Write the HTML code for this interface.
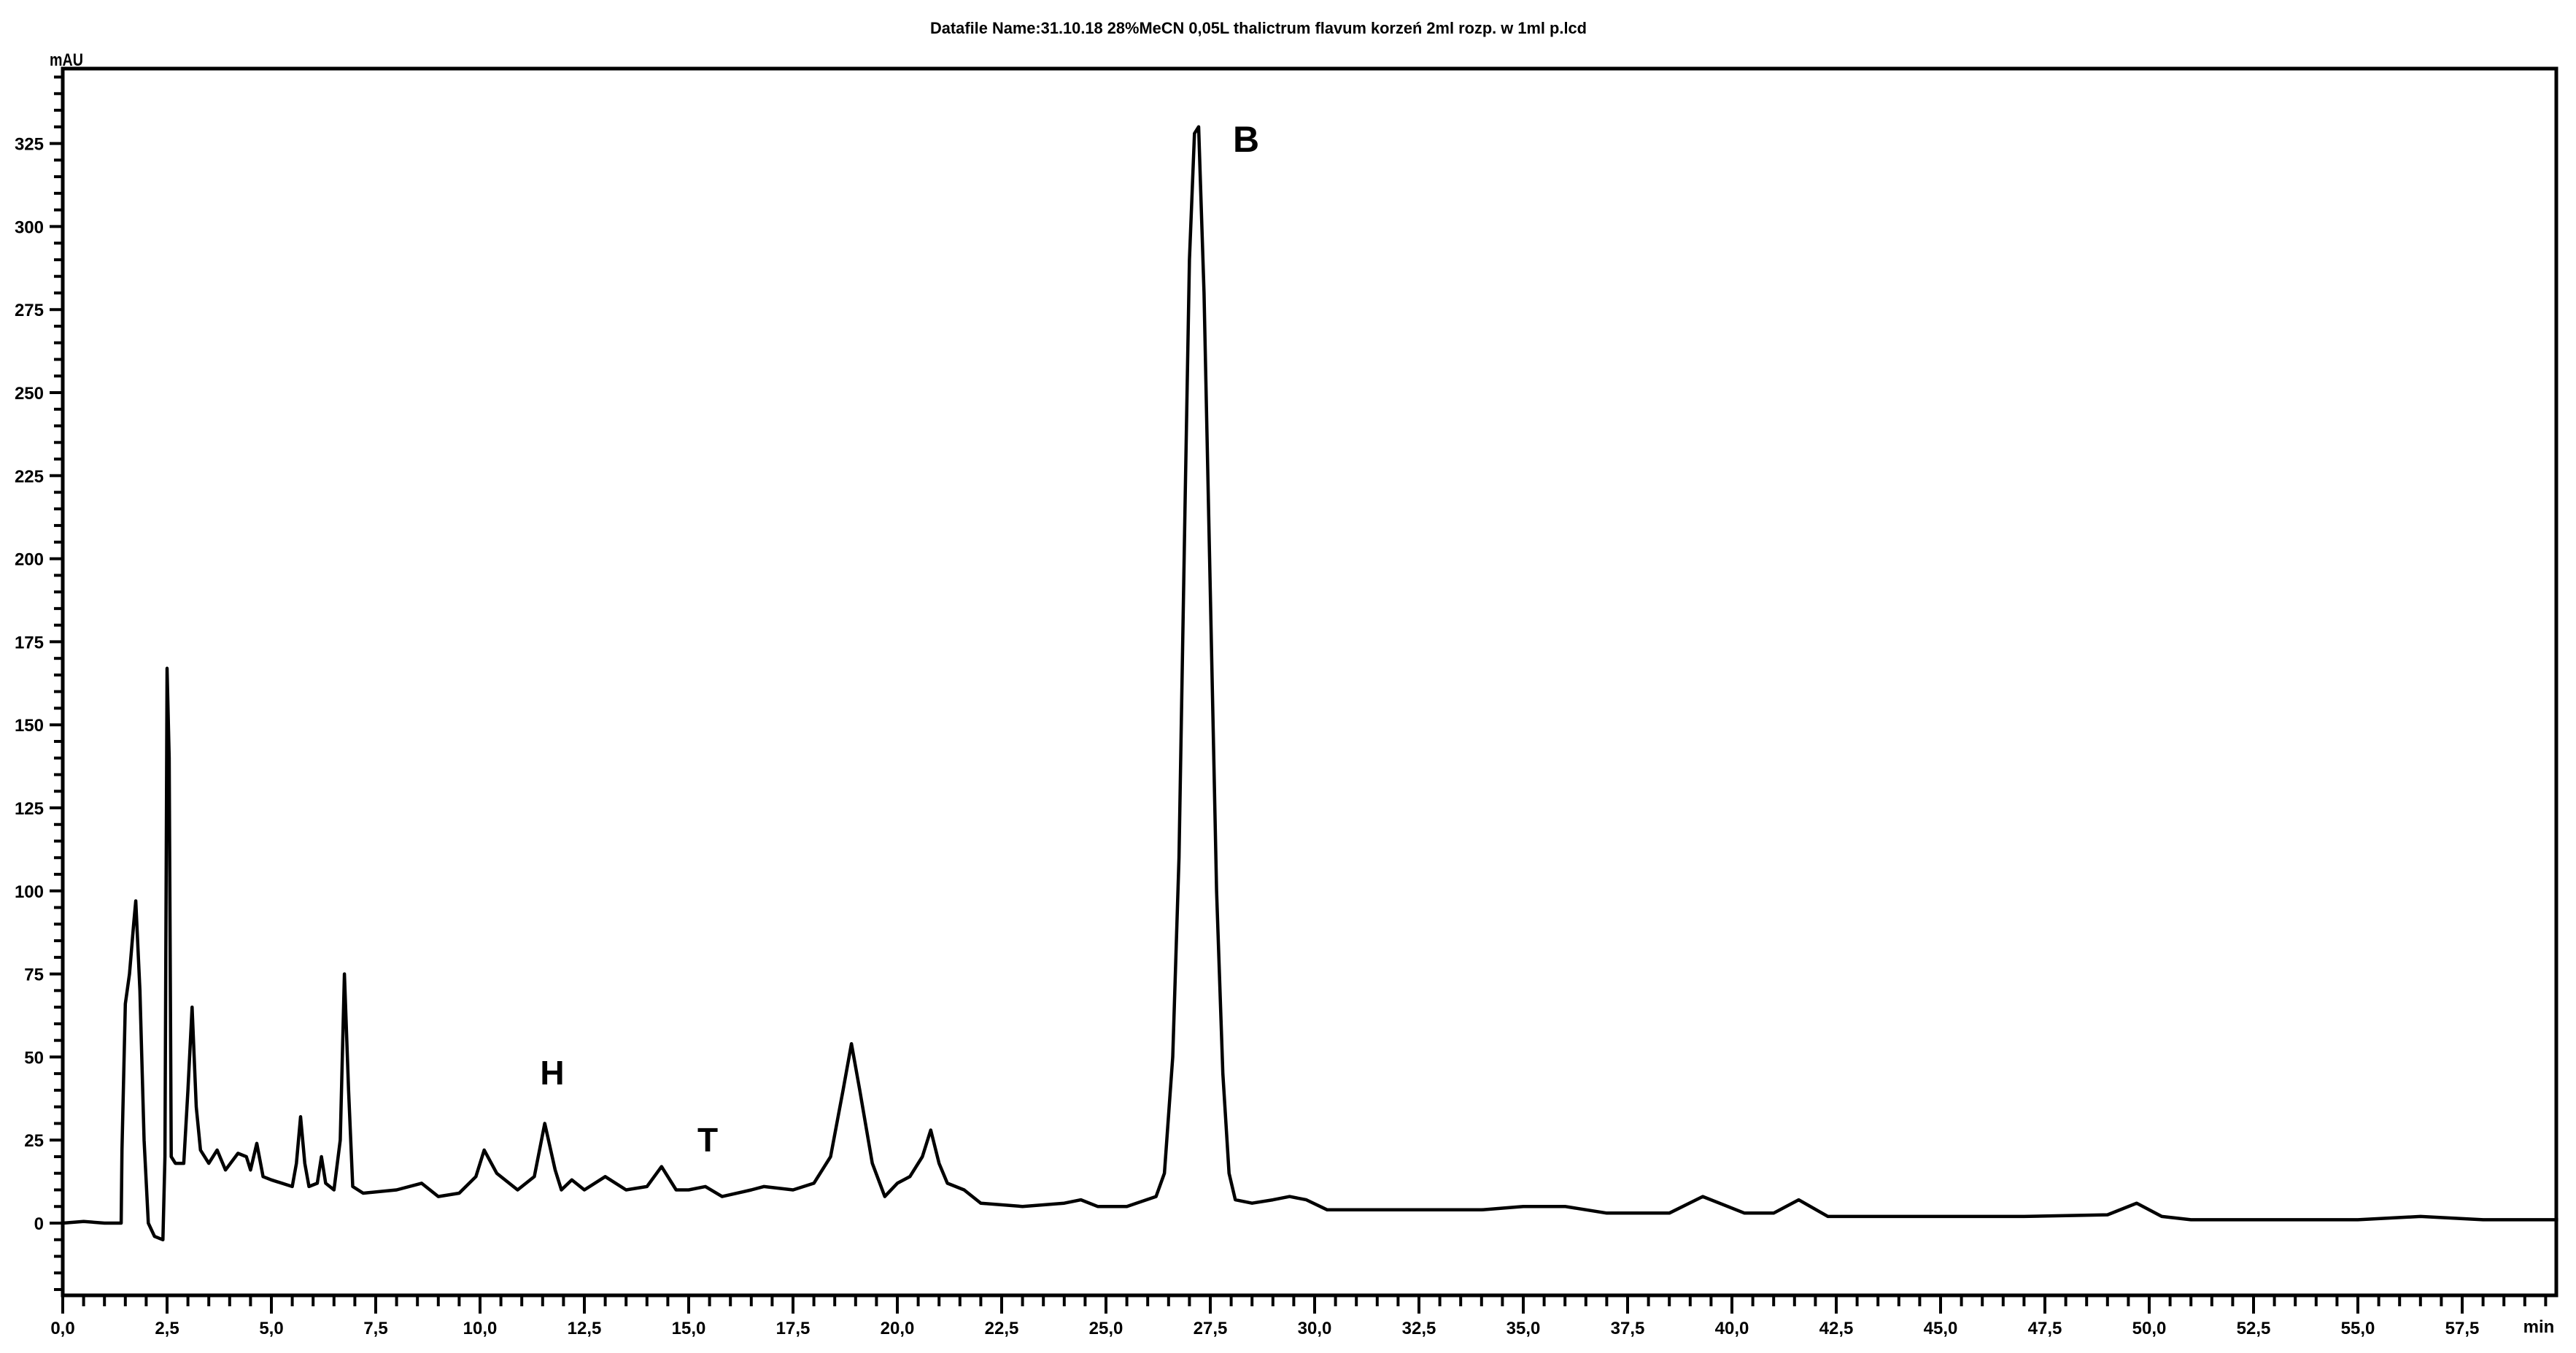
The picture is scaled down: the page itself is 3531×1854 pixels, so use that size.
<!DOCTYPE html>
<html><head><meta charset="utf-8">
<style>
html,body{margin:0;padding:0;background:#fff;}
svg{display:block;}
text{font-family:"Liberation Sans",sans-serif;font-weight:bold;fill:#000;}
</style></head>
<body>
<svg id="chart" width="3531" height="1854" viewBox="0 0 3531 1854" xmlns="http://www.w3.org/2000/svg">
<text x="1725" y="46" font-size="22" text-anchor="middle" textLength="900" lengthAdjust="spacingAndGlyphs">Datafile Name:31.10.18 28%MeCN 0,05L thalictrum flavum korzeń 2ml rozp. w 1ml p.lcd</text>
<text x="68" y="90" font-size="24" textLength="46" lengthAdjust="spacingAndGlyphs">mAU</text>
<text x="3480" y="1826" font-size="24" text-anchor="middle">min</text>
<g id="ticks"></g>
<rect x="86" y="94" width="3418" height="1681" fill="none" stroke="#000" stroke-width="5"/>
<polyline id="trace" fill="none" stroke="#000" stroke-width="4.5" stroke-linejoin="round"/>
<text x="757" y="1486" font-size="46" text-anchor="middle">H</text>
<text x="970" y="1578" font-size="46" text-anchor="middle">T</text>
<text x="1708" y="208" font-size="50" text-anchor="middle">B</text>
</svg>
<script>
const times = [0,0.5,1.0,1.4,1.42,1.5,1.6,1.7,1.75,1.85,1.95,2.05,2.2,2.4,2.45,2.5,2.55,2.6,2.7,2.9,3.0,3.1,3.2,3.3,3.5,3.7,3.9,4.2,4.4,4.5,4.65,4.8,5.0,5.5,5.6,5.7,5.8,5.9,6.1,6.2,6.3,6.5,6.65,6.75,6.85,6.95,7.2,8.0,8.6,9.0,9.5,9.9,10.1,10.4,10.9,11.3,11.55,11.8,11.95,12.2,12.5,13.0,13.5,14.0,14.35,14.7,15.0,15.4,15.8,16.5,16.8,17.5,18.0,18.4,18.7,18.9,19.1,19.4,19.7,20.0,20.3,20.6,20.8,21.0,21.2,21.6,22.0,23.0,24.0,24.4,24.8,25.5,26.2,26.4,26.6,26.75,26.9,27.0,27.12,27.22,27.35,27.5,27.65,27.8,27.95,28.1,28.5,29.0,29.4,29.8,30.3,32,34,35,36,37,38.5,39.3,40.3,41.0,41.6,42.3,45,47,49,49.7,50.3,51,55,56.5,58,59.8];
const values = [0,0.5,0,0,22,66,75,90,97,70,25,0,-4,-5,20,167,140,20,18,18,40,65,35,22,18,22,16,21,20,16,24,14,13,11,18,32,18,11,12,20,12,10,25,75,40,11,9,10,12,8,9,14,22,15,10,14,30,16,10,13,10,14,10,11,17,10,10,11,8,10,11,10,12,20,40,54,40,18,8,12,14,20,28,18,12,10,6,5,6,7,5,5,8,15,50,110,220,290,328,330,280,190,100,45,15,7,6,7,8,7,4,4,4,5,5,3,3,8,3,3,7,2,2,2,2.5,6,2,1,1,2,1,1];
const yTickLabels = ["0","25","50","75","100","125","150","175","200","225","250","275","300","325"];
const xTickLabels = ["0,0","2,5","5,0","7,5","10,0","12,5","15,0","17,5","20,0","22,5","25,0","27,5","30,0","32,5","35,0","37,5","40,0","42,5","45,0","47,5","50,0","52,5","55,0","57,5"];

const X0=86, PXM=57.2, Y0=1676, PXV=113.8/25;
const xs = t => X0 + t*PXM;
const ys = v => Y0 - v*PXV;

document.getElementById('trace').setAttribute('points', times.map((t,i)=>xs(t).toFixed(1)+','+ys(values[i]).toFixed(1)).join(' '));

const NS='http://www.w3.org/2000/svg';
const g=document.getElementById('ticks');
function line(x1,y1,x2,y2,n){const l=document.createElementNS(NS,'line');
l.setAttribute('x1',x1);l.setAttribute('y1',y1);l.setAttribute('x2',x2);l.setAttribute('y2',y2);
l.setAttribute('stroke','#000');l.setAttribute('stroke-width','4');


g.appendChild(l);}
function label(x,y,s,anchor,n){const t=document.createElementNS(NS,'text');
t.setAttribute('x',x);t.setAttribute('y',y);t.setAttribute('font-size','24');t.setAttribute('text-anchor',anchor);


t.textContent=s;g.appendChild(t);}
for(let v=-20; v<=345; v+=5){const y=ys(v); const major=(v%25===0)&&v>=0;
line(major?68:74,y,86,y,'y-tick');}
yTickLabels.forEach(s=>{const v=parseFloat(s);label(60,ys(v)+9,s,'end','y-tick-label');});
for(let k=0;k<=119;k++){const t=k*0.5;const x=xs(t);const major=(k%5===0);
line(x,1775,x,major?1800:1790,'x-tick');}
xTickLabels.forEach(s=>{const t=parseFloat(s.replace(',','.'));label(xs(t),1828,s,'middle','x-tick-label');});
</script>
</body></html>
